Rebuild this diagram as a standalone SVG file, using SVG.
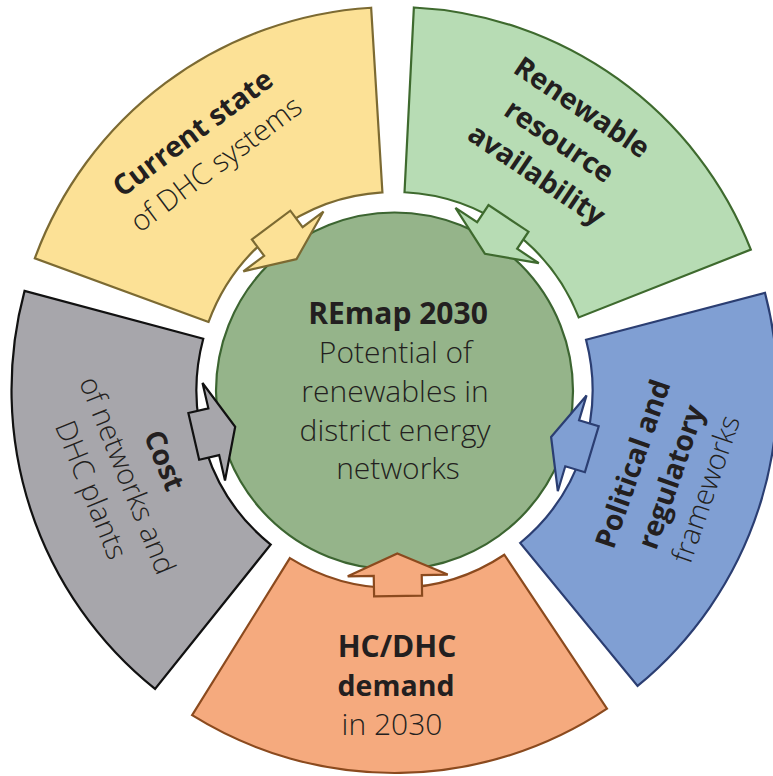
<svg xmlns="http://www.w3.org/2000/svg" width="773" height="776" viewBox="0 0 773 776">
<style>
  .t { font-family: "Open Sans", "Liberation Sans", sans-serif; fill: #231F20; text-anchor: middle; }
  .b { font-weight: 700; font-size: 30px; }
  .bs { font-weight: 700; font-size: 28.5px; }
  .r { font-weight: 300; font-size: 29px; }
  .rc { font-weight: 300; font-size: 30px; }
  .sec { stroke-width: 2.2; stroke-linejoin: miter; }
  .yel { fill: #FCE196; stroke: #7C6A32; }
  .grn { fill: #B7DCB4; stroke: #3E6A2E; }
  .blu { fill: #809FD3; stroke: #2B3E72; }
  .org { fill: #F5AA7E; stroke: #8B4A1E; }
  .gry { fill: #A7A6AB; stroke: #111111; }
</style>
<defs>
  <polygon id="arrow" points="163.5,0 185.5,-50 185.5,-24 206,-24 206,24 185.5,24 185.5,50"/>
</defs>
<rect width="773" height="776" fill="#FFFFFF"/>

<g id="remap-2030">
  <circle cx="394.5" cy="391" r="178.5" fill="#95B48A" stroke="#3C6531" stroke-width="2.2"/>
</g>

<g id="current-state">
  <path class="sec yel" d="M208.56,321.95 L34.82,258.36 A383,383 0 0 1 371.14,7.73 L382.42,192.38 A198,198 0 0 0 208.56,321.95 Z"/>
</g>
<g id="renewable-resource">
  <path class="sec grn" d="M404.52,192.26 L413.88,7.50 A383,383 0 0 1 750.84,249.63 L578.72,317.43 A198,198 0 0 0 404.52,192.26 Z"/>
</g>
<g id="political-regulatory">
  <path class="sec blu" d="M586.03,339.75 L764.98,292.79 A383,383 0 0 1 637.59,685.94 L520.17,542.99 A198,198 0 0 0 586.03,339.75 Z"/>
</g>
<g id="hc-dhc-demand">
  <path class="sec org" d="M504.35,554.74 L606.99,708.66 A383,383 0 0 1 192.12,715.17 L289.88,558.10 A198,198 0 0 0 504.35,554.74 Z"/>
</g>
<g id="cost">
  <path class="sec gry" d="M270.71,544.52 L155.05,688.89 A383,383 0 0 1 24.56,290.88 L203.25,338.76 A198,198 0 0 0 270.71,544.52 Z"/>
</g>

<g id="connectors">
  <use href="#arrow" class="sec yel" transform="translate(394.5,390) rotate(-126.8)"/>
  <use href="#arrow" class="sec grn" transform="translate(394.5,390) rotate(-56.4)"/>
  <use href="#arrow" class="sec blu" transform="translate(394.5,390) rotate(16.7)"/>
  <use href="#arrow" class="sec org" transform="translate(394.5,390) rotate(89)"/>
  <use href="#arrow" class="sec gry" transform="translate(394.5,390) rotate(167)"/>
</g>

<g id="labels">
  <text class="t b" x="398" y="324">REmap 2030</text>
  <text class="t rc" x="395.5" y="363">Potential of</text>
  <text class="t rc" x="395" y="402">renewables in</text>
  <text class="t rc" x="395" y="441">district energy</text>
  <text class="t rc" x="398" y="479">networks</text>

  <g transform="translate(204,148) rotate(-36.7)">
    <text class="t bs" x="0" y="-9">Current state</text>
    <text class="t r" x="0" y="30">of DHC systems</text>
  </g>
  <g transform="translate(560,140) rotate(34)">
    <text class="t bs" x="0" y="-29.5">Renewable</text>
    <text class="t bs" x="0" y="11">resource</text>
    <text class="t bs" x="0" y="51.5">availability</text>
  </g>
  <g transform="translate(670,476.7) rotate(-71)">
    <text class="t bs" x="0" y="-29.5">Political and</text>
    <text class="t bs" x="0" y="11">regulatory</text>
    <text class="t r" x="0" y="48">frameworks</text>
  </g>
  <g transform="translate(128.3,475) rotate(68)">
    <text class="t bs" x="0" y="-29">Cost</text>
    <text class="t r" x="0" y="11">of networks and</text>
    <text class="t r" x="0" y="50">DHC plants</text>
  </g>
  <text class="t b" x="397" y="657">HC/DHC</text>
  <text class="t bs" x="396" y="696">demand</text>
  <text class="t rc" x="392" y="735">in 2030</text>
</g>
</svg>
